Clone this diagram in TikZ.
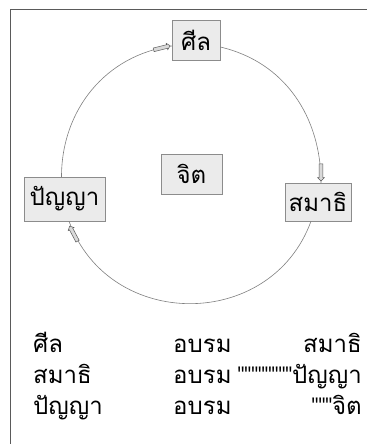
\documentclass[tikz,border=0pt]{standalone}
\usepackage{fontspec}
\usepackage{graphicx}
\newfontfamily\thaifont[Script=Thai]{Loma}
\newfontfamily\quotefont{Liberation Sans}
\newcommand\qmark{{\quotefont\scalebox{0.8}[1]{"}}}
\usepackage{tikz}
\usetikzlibrary{shapes,arrows,positioning,shapes.arrows,calc}
\definecolor{boxfill}{HTML}{EBEBEB}
\definecolor{boxline}{HTML}{8C8C8C}
\definecolor{ringcol}{HTML}{7F7F7F}
\definecolor{framecol}{HTML}{5A5A5A}
\tikzset{
  stage/.style={draw=boxline, fill=boxfill, font=\thaifont\fontsize{24}{28}\selectfont, inner xsep=4pt, minimum height=38pt},
  tip/.style={single arrow, draw=ringcol!70!black, fill=gray!30, minimum height=17pt, inner xsep=0pt, inner ysep=1.6pt, single arrow head extend=1.4pt, single arrow head indent=0pt, line width=0.5pt},
  ring/.style={draw=ringcol, line width=0.6pt},
  line/.style={font=\thaifont\fontsize{24}{28}\selectfont, inner sep=0pt}
}
\begin{document}
\begin{tikzpicture}[x=1pt,y=1pt]
			\useasboundingbox (0,0) rectangle (367,444);
			%frame
			\draw[framecol, line width=1.5pt] (10.5,0) -- (10.5,434.5) -- (367,434.5);
			%boxes
			\node[stage, minimum width=48pt, minimum height=40pt](sil) at (196,404){ศีล};
			\node[stage, minimum width=61pt, minimum height=40pt](jit) at (191.5,270){จิต};
			\node[stage, minimum width=81pt, minimum height=44pt](pan) at (64.5,245){ปัญญา};
			\node[stage, minimum width=62pt](smt) at (318,242){สมาธิ};
			%ring
			\draw[ring] ([xshift=-3pt]pan.north) to[out=90,in=188] ([yshift=-6pt]sil.west);
			\draw[ring] ([yshift=-7pt]sil.east) to[out=-13,in=90] ([xshift=3pt]smt.north);
			\draw[ring] ([xshift=-7pt]smt.south) to[out=-110,in=-70,looseness=1.24] ([xshift=4.5pt]pan.south);
			%arrows
			\node[tip, rotate=14](a1) at (161,396){};
			\node[tip, rotate=-90](a2) at (321,272.5){};
			\node[tip, rotate=118](a3) at (74,209.5){};
			%lines
			\node[line, anchor=base west](r1a) at (33,91){ศีล};
			\node[line, anchor=base west](r1b) at (173,91){อบรม};
			\node[line, anchor=base east](r1c) at (362,91){สมาธิ};
			\node[line, anchor=base west](r2a) at (33,60){สมาธิ};
			\node[line, anchor=base west](r2b) at (173,60){อบรม};
			\node[line, anchor=base east](r2c) at (362,60){\qmark\qmark\qmark\qmark\qmark\qmark\qmark\qmark ปัญญา};
			\node[line, anchor=base west](r3a) at (33,29){ปัญญา};
			\node[line, anchor=base west](r3b) at (173,29){อบรม};
			\node[line, anchor=base east](r3c) at (362,29){\qmark\qmark\qmark จิต};
\end{tikzpicture}
\end{document}
